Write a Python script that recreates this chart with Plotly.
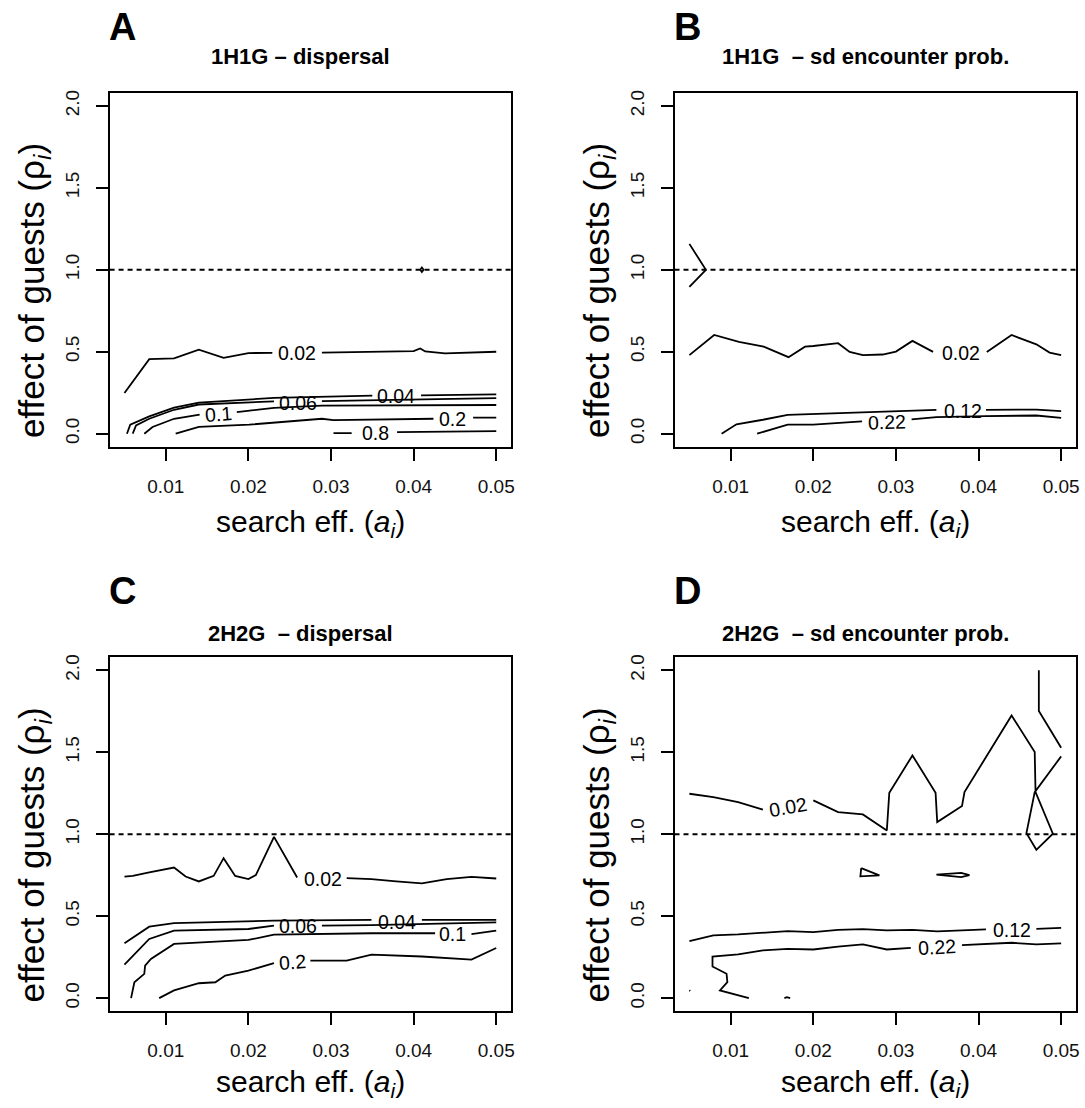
import plotly.graph_objects as go

W, H = 1085, 1108
FONT = "Liberation Sans, Arial, Helvetica, sans-serif"

# ---------------- data ----------------
x_ticks = [0.01, 0.02, 0.03, 0.04, 0.05]
x_tick_text = ["0.01", "0.02", "0.03", "0.04", "0.05"]
y_ticks = [0.0, 0.5, 1.0, 1.5, 2.0]
y_tick_text = ["0.0", "0.5", "1.0", "1.5", "2.0"]
x_range = [0.0032, 0.0518]
y_range = [-0.08, 2.08]
ref_level = 1.0

panel_letters = ["A", "B", "C", "D"]
panel_titles = ["1H1G \u2013 dispersal", "1H1G  \u2013 sd encounter prob.",
                "2H2G  \u2013 dispersal", "2H2G  \u2013 sd encounter prob."]

# Panel A : 1H1G dispersal
a_002_x = [0.005, 0.008, 0.011, 0.014, 0.017, 0.020, 0.0229, None, 0.0289, 0.040, 0.0408, 0.0414, 0.0438, 0.050]
a_002_y = [0.248, 0.455, 0.459, 0.512, 0.463, 0.492, 0.493, None, 0.494, 0.504, 0.520, 0.502, 0.490, 0.500]
a_004_x = [0.0053, 0.0057, 0.008, 0.011, 0.014, 0.0231, 0.0350, None, 0.0409, 0.050]
a_004_y = [0.0, 0.055, 0.106, 0.159, 0.189, 0.218, 0.232, None, 0.234, 0.240]
a_006_x = [0.006, 0.0064, 0.008, 0.011, 0.014, 0.0231, None, 0.0289, 0.050]
a_006_y = [0.0, 0.051, 0.091, 0.146, 0.178, 0.197, None, 0.199, 0.217]
a_01_x = [0.0074, 0.0084, 0.011, 0.0141, None, 0.0186, 0.0231, 0.0289, 0.050]
a_01_y = [0.0, 0.041, 0.091, 0.116, None, 0.132, 0.157, 0.171, 0.175]
a_02_x = [0.0112, 0.014, 0.0201, 0.0289, 0.0303, 0.0424, None, 0.0472, 0.050]
a_02_y = [0.0, 0.041, 0.055, 0.091, 0.083, 0.091, None, 0.098, 0.098]
a_08_x = [0.0303, 0.0325, None, 0.038, 0.050]
a_08_y = [0.004, 0.004, None, 0.010, 0.016]
a_dia_x = [0.0408, 0.041, 0.0412, 0.041, 0.0408]
a_dia_y = [1.0, 1.014, 1.0, 0.986, 1.0]
a_lab_text = ["0.02", "0.04", "0.06", "0.1", "0.2", "0.8"]
a_lab_x = [0.0259, 0.0379, 0.0260, 0.0164, 0.0447, 0.0354]
a_lab_y = [0.490, 0.228, 0.190, 0.122, 0.090, 0.006]
a_lab_ang = [0, 0, 0, -4, 0, 0]

# Panel B : 1H1G sd encounter prob.
b_002_x = [0.005, 0.008, 0.011, 0.014, 0.017, 0.019, 0.020, 0.023, 0.0244, 0.026, 0.0284, 0.030, 0.032, 0.0345,
           None, 0.041, 0.044, 0.047, 0.0486, 0.050]
b_002_y = [0.479, 0.602, 0.560, 0.531, 0.467, 0.531, 0.535, 0.552, 0.499, 0.479, 0.483, 0.501, 0.566, 0.499,
           None, 0.499, 0.602, 0.545, 0.495, 0.479]
b_top_x = [0.005, 0.007, 0.005]
b_top_y = [1.158, 1.0, 0.895]
b_012_x = [0.0089, 0.0107, 0.0139, 0.0169, 0.0349, None, 0.0409, 0.047, 0.050]
b_012_y = [0.0, 0.057, 0.085, 0.115, 0.145, None, 0.145, 0.147, 0.137]
b_022_x = [0.0132, 0.0169, 0.020, 0.0259, None, 0.0319, 0.0349, 0.0409, 0.047, 0.050]
b_022_y = [0.0, 0.055, 0.055, 0.075, None, 0.087, 0.101, 0.107, 0.111, 0.097]
b_lab_text = ["0.02", "0.12", "0.22"]
b_lab_x = [0.0379, 0.0381, 0.0289]
b_lab_y = [0.493, 0.139, 0.070]
b_lab_ang = [0, 0, -2]

# Panel C : 2H2G dispersal
c_002_x = [0.005, 0.006, 0.008, 0.011, 0.0124, 0.014, 0.0158, 0.017, 0.0184, 0.020, 0.0209, 0.0231, 0.0259,
           None, 0.0319, 0.0349, 0.0379, 0.041, 0.044, 0.047, 0.050]
c_002_y = [0.742, 0.746, 0.767, 0.797, 0.742, 0.712, 0.746, 0.854, 0.746, 0.726, 0.751, 0.984, 0.736,
           None, 0.732, 0.726, 0.712, 0.700, 0.726, 0.740, 0.730]
c_004_x = [0.005, 0.008, 0.011, 0.0231, 0.0349, None, 0.041, 0.050]
c_004_y = [0.335, 0.436, 0.458, 0.473, 0.477, None, 0.477, 0.477]
c_006_x = [0.005, 0.008, 0.011, 0.020, 0.0231, None, 0.0289, 0.0349, 0.050]
c_006_y = [0.205, 0.361, 0.412, 0.422, 0.442, None, 0.442, 0.446, 0.462]
c_01_x = [0.0058, 0.0062, 0.0074, 0.0075, 0.0082, 0.011, 0.020, 0.0231, 0.0349, 0.0426, None, 0.047, 0.050]
c_01_y = [0.0, 0.097, 0.148, 0.199, 0.239, 0.331, 0.355, 0.387, 0.396, 0.396, None, 0.391, 0.412]
c_02_x = [0.0092, 0.011, 0.014, 0.016, 0.0172, 0.020, 0.0231, None, 0.0275, 0.0319, 0.0349, 0.041, 0.047, 0.050]
c_02_y = [0.0, 0.047, 0.091, 0.097, 0.138, 0.168, 0.213, None, 0.229, 0.229, 0.266, 0.254, 0.235, 0.306]
c_lab_text = ["0.02", "0.04", "0.06", "0.1", "0.2"]
c_lab_x = [0.0290, 0.0380, 0.0260, 0.0447, 0.0253]
c_lab_y = [0.728, 0.467, 0.438, 0.390, 0.220]
c_lab_ang = [0, 0, 0, 0, -4]

# Panel D : 2H2G sd encounter prob.
d_002_x = [0.005, 0.0079, 0.0109, 0.0139, None, 0.020, 0.023, 0.026, 0.0289, 0.0292, 0.032, 0.0348, 0.035,
           0.038, 0.0383, 0.044, 0.0468, 0.0469, 0.049, 0.047, 0.0458, 0.0468, 0.050]
d_002_y = [1.247, 1.227, 1.196, 1.150, None, 1.207, 1.135, 1.121, 1.023, 1.253, 1.481, 1.253, 1.074,
           1.172, 1.257, 1.725, 1.502, 1.257, 1.003, 0.905, 1.007, 1.257, 1.475]
d_top_x = [0.0473, 0.0473, 0.050]
d_top_y = [2.0, 1.752, 1.528]
d_tri_x = [0.0258, 0.0280, 0.0257, 0.0258]
d_tri_y = [0.793, 0.749, 0.743, 0.793]
d_loop_x = [0.0349, 0.0379, 0.0389, 0.0379, 0.0349]
d_loop_y = [0.754, 0.764, 0.750, 0.738, 0.754]
d_dot_x = [0.0050, 0.0051]
d_dot_y = [0.048, 0.044]
d_bump_x = [0.0165, 0.0168, 0.0172]
d_bump_y = [0.0, 0.006, 0.0]
d_012_x = [0.005, 0.0079, 0.0109, 0.0139, 0.0169, 0.020, 0.023, 0.026, 0.0289, 0.032, 0.035, 0.038, 0.0409,
           None, 0.047, 0.050]
d_012_y = [0.348, 0.383, 0.389, 0.401, 0.409, 0.403, 0.417, 0.421, 0.413, 0.417, 0.407, 0.413, 0.419,
           None, 0.423, 0.429]
d_022_x = [0.0122, 0.0087, 0.0096, 0.0095, 0.0078, 0.0078, 0.0109, 0.0139, 0.0169, 0.020, 0.023, 0.026,
           0.0289, 0.0318, None, 0.038, 0.0409, 0.044, 0.047, 0.050]
d_022_y = [0.0, 0.047, 0.098, 0.149, 0.193, 0.254, 0.267, 0.291, 0.301, 0.297, 0.315, 0.328,
           0.297, 0.307, None, 0.324, 0.332, 0.338, 0.328, 0.334]
d_lab_text = ["0.02", "0.12", "0.22"]
d_lab_x = [0.0169, 0.0440, 0.0350]
d_lab_y = [1.168, 0.415, 0.313]
d_lab_ang = [-10, 0, -3]

panel_lines = [
    [(a_002_x, a_002_y), (a_004_x, a_004_y), (a_006_x, a_006_y), (a_01_x, a_01_y),
     (a_02_x, a_02_y), (a_08_x, a_08_y), (a_dia_x, a_dia_y)],
    [(b_002_x, b_002_y), (b_top_x, b_top_y), (b_012_x, b_012_y), (b_022_x, b_022_y)],
    [(c_002_x, c_002_y), (c_004_x, c_004_y), (c_006_x, c_006_y), (c_01_x, c_01_y), (c_02_x, c_02_y)],
    [(d_002_x, d_002_y), (d_top_x, d_top_y), (d_tri_x, d_tri_y), (d_loop_x, d_loop_y),
     (d_dot_x, d_dot_y), (d_bump_x, d_bump_y), (d_012_x, d_012_y), (d_022_x, d_022_y)],
]
panel_labels = [
    (a_lab_text, a_lab_x, a_lab_y, a_lab_ang),
    (b_lab_text, b_lab_x, b_lab_y, b_lab_ang),
    (c_lab_text, c_lab_x, c_lab_y, c_lab_ang),
    (d_lab_text, d_lab_x, d_lab_y, d_lab_ang),
]

# ---------------- layout geometry (pixels) ----------------
box_left = [110, 677, 110, 677]
box_right = [513, 1080, 513, 1080]
box_top = [90, 90, 656, 656]
box_bottom = [445, 445, 1011, 1011]
title_y = [54, 54, 632, 632]
letter_y = [24, 24, 590, 590]
xtitle_y = [522, 522, 1083, 1083]

fig = go.Figure()
layout = dict(
    width=W, height=H,
    margin=dict(l=0, r=0, t=0, b=0),
    paper_bgcolor="white", plot_bgcolor="white",
    showlegend=False,
    font=dict(family=FONT, color="black"),
)

annotations = []
shapes = []
for i in range(4):
    sfx = "" if i == 0 else str(i + 1)
    xa, ya = "x" + sfx, "y" + sfx
    layout["xaxis" + sfx] = dict(
        domain=[box_left[i] / W, box_right[i] / W], anchor=ya,
        range=x_range, tickvals=x_ticks, ticktext=x_tick_text,
        showline=True, mirror=True, linecolor="black", linewidth=2,
        ticks="outside", ticklen=12, tickwidth=2, tickcolor="black",
        showgrid=False, zeroline=False, fixedrange=True,
        tickfont=dict(size=19, family=FONT, color="#111"),
        ticklabelstandoff=9,
    )
    layout["yaxis" + sfx] = dict(
        domain=[1 - box_bottom[i] / H, 1 - box_top[i] / H], anchor=xa,
        range=y_range, tickvals=y_ticks, ticktext=y_tick_text,
        showline=True, mirror=True, linecolor="black", linewidth=2,
        ticks="outside", ticklen=12, tickwidth=2, tickcolor="black",
        showgrid=False, zeroline=False, fixedrange=True, tickangle=-90,
        tickfont=dict(size=19, family=FONT, color="#111"),
        ticklabelstandoff=9,
    )
    for (lx, ly) in panel_lines[i]:
        fig.add_trace(go.Scatter(x=lx, y=ly, mode="lines", xaxis=xa, yaxis=ya,
                                 line=dict(color="black", width=1.8),
                                 connectgaps=False, hoverinfo="skip"))
    shapes.append(dict(type="line", xref=xa + " domain", yref=ya, x0=0, x1=1,
                       y0=ref_level, y1=ref_level,
                       line=dict(color="black", width=2, dash="5px,4px")))
    txt, lxs, lys, angs = panel_labels[i]
    for t, lx, ly, ang in zip(txt, lxs, lys, angs):
        annotations.append(dict(text=t, x=lx, y=ly, xref=xa, yref=ya, showarrow=False,
                                xanchor="center", yanchor="middle", textangle=ang,
                                font=dict(size=19.5, family=FONT, color="black")))
    cx = (box_left[i] + box_right[i]) / 2
    # panel letter
    annotations.append(dict(text="<b>" + panel_letters[i] + "</b>", x=(box_left[i] - 3) / W,
                            y=1 - letter_y[i] / H, xref="paper", yref="paper",
                            showarrow=False, xanchor="left", yanchor="middle",
                            font=dict(size=38, family=FONT, color="black")))
    # panel title
    annotations.append(dict(text="<b>" + panel_titles[i] + "</b>", x=(cx - 10) / W,
                            y=1 - title_y[i] / H, xref="paper", yref="paper",
                            showarrow=False, xanchor="center", yanchor="middle",
                            font=dict(size=22, family=FONT, color="black")))
    # x axis title
    annotations.append(dict(text="search eff. (<i>a</i><sub><i>i</i></sub>)", x=cx / W,
                            y=1 - xtitle_y[i] / H, xref="paper", yref="paper",
                            showarrow=False, xanchor="center", yanchor="middle",
                            font=dict(size=30, family=FONT, color="black")))
    # y axis title
    annotations.append(dict(text="effect of guests (\u03c1<sub><i>i</i></sub>)",
                            x=(box_left[i] - 76) / W,
                            y=1 - (box_top[i] + 198) / H, xref="paper", yref="paper",
                            showarrow=False, xanchor="center", yanchor="middle", textangle=-90,
                            font=dict(size=35, family=FONT, color="black")))

layout["annotations"] = annotations
layout["shapes"] = shapes
fig.update_layout(**layout)
fig.write_html("out.html")
